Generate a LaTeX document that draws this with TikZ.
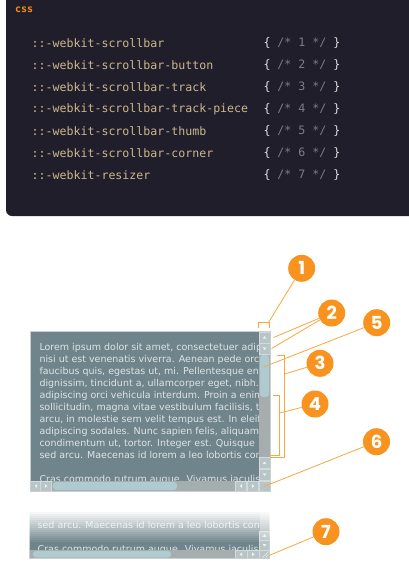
\documentclass[tikz,border=0pt]{standalone}
\usepackage{fontspec}
\setmainfont{DejaVu Sans}
\setmonofont{DejaVu Sans Mono}
\newfontfamily\badgefont{Poppins}

\definecolor{codebg}{RGB}{32,30,43}
\definecolor{cssorange}{RGB}{247,140,20}
\definecolor{seltan}{RGB}{203,184,142}
\definecolor{brace}{RGB}{228,228,228}
\definecolor{cmt}{RGB}{125,125,130}
\definecolor{badge}{RGB}{247,147,30}
\definecolor{linkline}{RGB}{250,168,62}
\definecolor{slate}{RGB}{111,133,139}
\definecolor{loremtext}{RGB}{222,228,229}
\definecolor{frame}{RGB}{200,208,210}
\definecolor{btn}{RGB}{184,196,198}
\definecolor{btnedge}{RGB}{210,218,220}
\definecolor{track}{RGB}{166,173,175}
\definecolor{thumb}{RGB}{176,203,207}
\definecolor{arrowgrey}{RGB}{236,240,240}

\begin{document}
\begin{tikzpicture}[x=1pt, y=-1pt,
  badge/.style={circle, fill=badge, minimum size=27pt, inner sep=0pt, text=white,
    font=\badgefont\bfseries\fontsize{18}{18}\selectfont},
  link/.style={draw=linkline, line width=0.8pt},
  codeline/.style={anchor=west, inner sep=0pt, text=seltan,
    font=\ttfamily\fontsize{11.6}{14}\selectfont},
  lorem/.style={anchor=base west, inner sep=0pt, text=loremtext,
    font=\fontsize{9.5}{12}\selectfont},
  btn/.style={fill=btn, draw=btnedge, line width=0.3pt}]

\useasboundingbox (0,0) rectangle (409,570);
\fill[white] (0,0) rectangle (409,570);

% code panel
\fill[codebg, rounded corners=6pt] (6,-10) rectangle (420,216);
\node[anchor=west, inner sep=0pt, text=cssorange,
  font=\ttfamily\bfseries\fontsize{10}{10}\selectfont] (lang) at (15,9.5) {css};
\foreach \sel [count=\i] in {scrollbar, scrollbar-button, scrollbar-track,
  scrollbar-track-piece, scrollbar-thumb, scrollbar-corner, resizer} {
  \node[codeline] (sel\i) at (31.5,21.3+22*\i) {::-webkit-\sel};
  \node[codeline] (rule\i) at (263.3,21.3+22*\i)
    {{\color{brace}\{} {\color{cmt}/* \i{} */} {\color{brace}\}}};
}

% scrolling box
\fill[slate] (30.5,331.5) rectangle (270,491);
\begin{scope}
\clip (31,332) rectangle (259,481);
\foreach \ln [count=\k] in {
  {Lorem ipsum dolor sit amet, consectetuer adipiscing},
  {nisi ut est venenatis viverra. Aenean pede orci,},
  {faucibus quis, egestas ut, mi. Pellentesque enim},
  {dignissim, tincidunt a, ullamcorper eget, nibh. Nam},
  {adipiscing orci vehicula interdum. Proin a enim},
  {sollicitudin, magna vitae vestibulum facilisis, tellus},
  {arcu, in molestie sem velit tempus est. In eleifend},
  {adipiscing sodales. Nunc sapien felis, aliquam eu},
  {condimentum ut, tortor. Integer est. Quisque},
  {sed arcu. Maecenas id lorem a leo lobortis condimentum}} {
  \node[lorem] (txt\k) at (39.3,338+12*\k) {\ln};
}
\node[lorem] (txtlast) at (39.3,482) {Cras commodo rutrum augue. Vivamus iaculis};
\end{scope}

% vertical bar
\fill[track] (259,354) rectangle (270,457);
\fill[thumb, rounded corners=3pt] (260,355) rectangle (269,397);
\foreach \cy/\dir in {337.5/1, 348.5/-1, 463/1, 474.5/-1} {
  \filldraw[btn] (259,{\cy-5.5}) rectangle (270,{\cy+5.5});
  \fill[arrowgrey] (262.5,{\cy+1.2*\dir}) -- (266.5,{\cy+1.2*\dir}) -- (264.5,{\cy-1.5*\dir}) -- cycle;
}
% horizontal bar
\fill[track] (51,481) rectangle (235,491);
\fill[thumb, rounded corners=3pt] (53,482) rectangle (177,490);
\foreach \cx/\dir in {36/-1, 46/1, 241/-1, 253/1} {
  \filldraw[btn] ({\cx-5.5},481) rectangle ({\cx+5.5},491);
  \fill[arrowgrey] ({\cx-1.2*\dir},484) -- ({\cx-1.2*\dir},488) -- ({\cx+1.5*\dir},486) -- cycle;
}
\filldraw[btn] (259,481) rectangle (270,491);
\draw[frame, line width=0.8pt] (30.5,331.5) rectangle (270,491);

% resized box
\fill[slate] (29.5,512) rectangle (269.5,558.5);
\begin{scope}
\clip (30,512) rectangle (259.5,550);
\node[lorem] (fadetxt) at (37.5,528.5) {sed arcu. Maecenas id lorem a leo lobortis condimentum};
\node[lorem] (fadelast) at (37.5,552.5) {Cras commodo rutrum augue. Vivamus iaculis};
\end{scope}
\fill[track] (259.5,512) rectangle (269.5,531);
\foreach \cy/\dir in {535.7/1, 545.2/-1} {
  \filldraw[btn] (259.5,{\cy-4.75}) rectangle (269.5,{\cy+4.75});
  \fill[arrowgrey] (262.5,{\cy+1.2*\dir}) -- (266.5,{\cy+1.2*\dir}) -- (264.5,{\cy-1.5*\dir}) -- cycle;
}
\fill[track] (30,550) rectangle (235,558.5);
\fill[thumb, rounded corners=3pt] (33,551) rectangle (171,557.5);
\foreach \cx/\dir in {241/-1, 253.2/1} {
  \filldraw[btn] ({\cx-6},550) rectangle ({\cx+6},558.5);
  \fill[arrowgrey] ({\cx-1.2*\dir},552.3) -- ({\cx-1.2*\dir},556.3) -- ({\cx+1.5*\dir},554.3) -- cycle;
}
\filldraw[btn] (259.5,550) rectangle (269.5,558.5);
\draw[arrowgrey, line width=0.5pt] (262.5,557.5) -- (268.5,551.5) (265.5,557.5) -- (268.5,554.5);
\draw[frame, line width=0.8pt] (29.5,558.5) -- (269.5,558.5) -- (269.5,512) (29.5,512) -- (29.5,558.5);
\foreach \k in {0,...,15} {
  \pgfmathsetmacro\op{1-\k/16}
  \fill[white, opacity=\op] (28,{510+2*\k}) rectangle (271,{512+2*\k});
}

% call-outs
\coordinate (cap1) at (268.5,322.5);
\coordinate (btnup) at (273.5,337.5);
\coordinate (btndown) at (271.5,348.5);
\coordinate (thumbpt) at (263.5,367);
\coordinate (trackpt) at (284.5,374);
\coordinate (piecept) at (279.5,413);
\coordinate (cornerpt) at (264,486.5);
\coordinate (resizerpt) at (269,555.5);

\draw[link] (258.5,327.5) -- (258.5,322.5) -- (269.5,322.5) -- (269.5,327.5);
\draw[link] (277,355.5) -- (284.5,355.5) -- (284.5,457) -- (270,457);
\draw[link] (273,395) -- (279.5,395) -- (279.5,455) -- (270,455);

\node[badge] (n1) at (301.7,268.3) {1};
\node[badge] (n2) at (331.7,313) {2};
\node[badge] (n5) at (376.7,322.7) {5};
\node[badge] (n3) at (320,363.3) {3};
\node[badge] (n4) at (315,404) {4};
\node[badge] (n6) at (376.5,441.7) {6};
\node[badge] (n7) at (326,531.7) {7};

\draw[link] (n1) -- (cap1);
\draw[link] (n2) -- (btnup);
\draw[link] (n2) -- (btndown);
\draw[link] (n5) -- (thumbpt);
\draw[link] (n3) -- (trackpt);
\draw[link] (n4) -- (piecept);
\draw[link] (n6) -- (cornerpt);
\draw[link] (n7) -- (resizerpt);

\end{tikzpicture}
\end{document}
